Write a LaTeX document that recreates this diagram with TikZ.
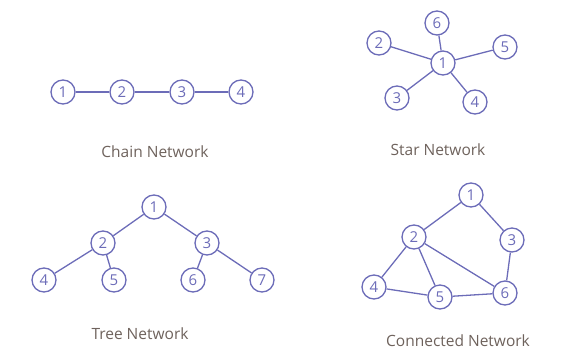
\documentclass[tikz,border=0pt]{standalone}
\usepackage{fontspec}
\setmainfont{Open Sans}
\usepackage{xcolor}
\usepackage{tikz}
\definecolor{netblue}{RGB}{108,108,184}
\definecolor{capgrey}{RGB}{110,98,92}

\begin{document}
\begin{tikzpicture}[x=1pt,y=-1pt]
    \tikzstyle{station} = [circle, draw=netblue, line width=1.3pt, text=netblue,
        minimum size=24pt, inner sep=0pt, font=\fontsize{15}{15}\selectfont]
    \tikzstyle{link} = [draw=netblue, line width=1.3pt]
    \tikzstyle{caption} = [text=capgrey, font=\fontsize{15.5}{15.5}\selectfont]
    \useasboundingbox (0,0) rectangle (561,350);
        %%% chain %%%
        \node[station] (c1) at (63,92) {1};
        \node[station] (c2) at (122,92) {2};
        \node[station] (c3) at (182,92) {3};
        \node[station] (c4) at (241,92) {4};
        \draw[link] (c1) -- (c2) (c2) -- (c3) (c3) -- (c4);
        \node[caption] (chaincap) at (155,152) {Chain Network};
        %%% star %%%
        \node[station] (s1) at (443,63) {1};
        \node[station] (s2) at (379,43) {2};
        \node[station] (s3) at (397,98) {3};
        \node[station] (s4) at (475,102) {4};
        \node[station] (s5) at (505,47) {5};
        \node[station] (s6) at (437,23) {6};
        \foreach \k in {2,...,6}
            \draw[link] (s1) -- (s\k);
        \node[caption] (starcap) at (438,150) {Star Network};
        %%% tree %%%
        \node[station] (t1) at (154,207) {1};
        \node[station] (t2) at (103,243) {2};
        \node[station] (t3) at (207,243) {3};
        \node[station] (t4) at (44,280) {4};
        \node[station] (t5) at (114,280) {5};
        \node[station] (t6) at (193,280) {6};
        \node[station] (t7) at (262,280) {7};
        \draw[link] (t1) -- (t2) (t1) -- (t3);
        \draw[link] (t2) -- (t4) (t2) -- (t5);
        \draw[link] (t3) -- (t6) (t3) -- (t7);
        \node[caption] (treecap) at (140,334) {Tree Network};
        %%% connected %%%
        \node[station] (n1) at (471,195) {1};
        \node[station] (n2) at (414,237) {2};
        \node[station] (n3) at (512,240) {3};
        \node[station] (n4) at (374,287) {4};
        \node[station] (n5) at (440,297) {5};
        \node[station] (n6) at (505,293) {6};
        \draw[link] (n1) -- (n2) (n1) -- (n3);
        \draw[link] (n2) -- (n4) (n2) -- (n5) (n2) -- (n6);
        \draw[link] (n3) -- (n6) (n4) -- (n5) (n5) -- (n6);
        \node[caption] (conncap) at (458,341) {Connected Network};
\end{tikzpicture}
\end{document}
